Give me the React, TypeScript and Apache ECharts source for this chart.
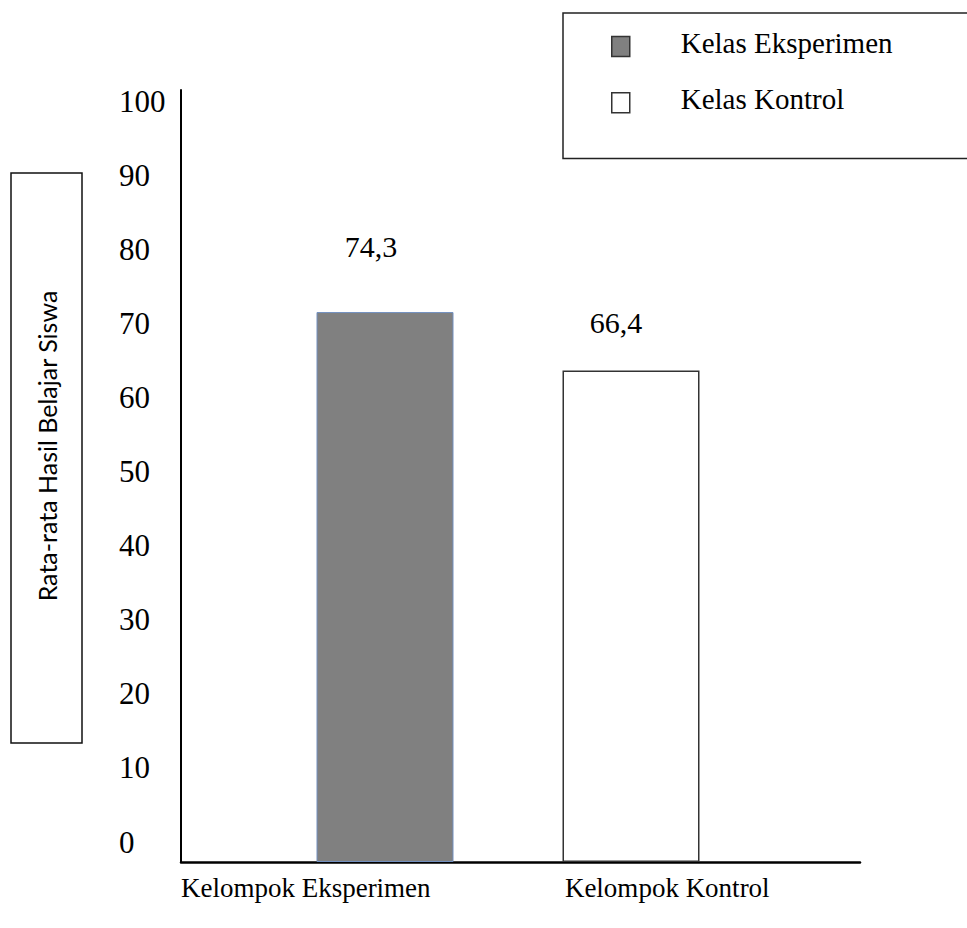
import React, { useEffect, useRef } from "react";
import * as echarts from "echarts";

// Categories on the horizontal axis
const categories = ["Kelompok Eksperimen", "Kelompok Kontrol"];
// Legend / series names
const seriesNames = ["Kelas Eksperimen", "Kelas Kontrol"];
// Mean learning results per group
const eksperimenValues: (number | null)[] = [74.3, null];
const kontrolValues: (number | null)[] = [null, 66.4];
// Value axis range and step
const axisMin = 0;
const axisMax = 104.3;
const axisStep = 10;
const yAxisTitle = "Rata-rata Hasil Belajar Siswa";

const SERIF = "Liberation Serif";
const SANS = "Lato";

const fmtComma = (v: number) => String(v).replace(".", ",");
const toData = (arr: (number | null)[]) => arr.map((v) => (v == null ? "-" : v));

export default function App() {
  const ref = useRef<HTMLDivElement>(null);

  useEffect(() => {
    document.body.style.margin = "0";
    if (!ref.current) return;
    const chart = echarts.init(ref.current, undefined, { renderer: "svg" });

    const valueLabel = {
      show: true,
      position: "top",
      formatter: (p: any) => `{v|${fmtComma(p.value)}}`,
      rich: {
        v: { fontFamily: SERIF, fontSize: 30, color: "#000" },
      },
    };

    const option: any = {
      animation: false,
      backgroundColor: "#ffffff",
      grid: [
        { left: 181, right: 107, top: 90, bottom: 66 },
        { left: 262, right: 213, top: 90, bottom: 66 },
      ],
      legend: {
        orient: "vertical",
        left: 563,
        top: 13,
        padding: [15, 140, 45, 48],
        itemGap: 27,
        itemWidth: 18,
        itemHeight: 20,
        icon: "rect",
        borderColor: "#222",
        borderWidth: 1.5,
        backgroundColor: "#fff",
        data: [
          {
            name: seriesNames[0],
            itemStyle: { color: "#808080", borderColor: "#333", borderWidth: 1.5 },
          },
          {
            name: seriesNames[1],
            itemStyle: { color: "#ffffff", borderColor: "#333", borderWidth: 1.5 },
          },
        ],
        formatter: (name: string) => `{t|${name}}`,
        textStyle: {
          rich: {
            t: {
              fontFamily: SERIF,
              fontSize: 29,
              color: "#000",
              padding: [0, 0, 8, 46],
            },
          },
        },
      },
      xAxis: [
        {
          type: "category",
          gridIndex: 0,
          data: categories,
          axisLine: { lineStyle: { color: "#000", width: 2.5 } },
          axisTick: { show: false },
          axisLabel: {
            interval: 0,
            margin: 12,
            formatter: (v: string, i: number) => (i === 0 ? `{a|${v}}` : `{b|${v}}`),
            rich: {
              a: { fontFamily: SERIF, fontSize: 27, color: "#000", padding: [0, 90, 0, 0] },
              b: { fontFamily: SERIF, fontSize: 27, color: "#000", padding: [0, 46, 0, 0] },
            },
          },
        },
        {
          type: "category",
          gridIndex: 1,
          data: categories,
          show: false,
        },
      ],
      yAxis: [
        {
          type: "value",
          gridIndex: 0,
          min: axisMin,
          max: axisMax,
          interval: axisStep,
          axisLine: { show: true, lineStyle: { color: "#000", width: 2 } },
          axisTick: { show: false },
          splitLine: { show: false },
          axisLabel: {
            align: "left",
            margin: 62,
            formatter: (v: number) => (v % axisStep === 0 ? `{t|${v}}` : ""),
            rich: {
              t: {
                fontFamily: SERIF,
                fontSize: 31,
                color: "#000",
                padding: [0, 0, 40, 0],
              },
            },
          },
        },
        {
          type: "value",
          gridIndex: 1,
          min: axisMin,
          max: axisMax,
          interval: axisStep,
          show: false,
          splitLine: { show: false },
        },
      ],
      series: [
        {
          name: seriesNames[0],
          type: "bar",
          xAxisIndex: 1,
          yAxisIndex: 1,
          data: toData(eksperimenValues),
          barWidth: 137,
          barGap: "-100%",
          itemStyle: { color: "#808080", borderColor: "#7290c0", borderWidth: 1 },
          label: { ...valueLabel, distance: 51, offset: [-14, 0] },
        },
        {
          name: seriesNames[1],
          type: "bar",
          xAxisIndex: 1,
          yAxisIndex: 1,
          data: toData(kontrolValues),
          barWidth: 137,
          barGap: "-100%",
          itemStyle: { color: "#ffffff", borderColor: "#333", borderWidth: 1.5 },
          label: { ...valueLabel, distance: 33, offset: [-15, 0] },
        },
      ],
      graphic: [
        {
          type: "rect",
          shape: { x: 11, y: 173, width: 71, height: 570 },
          style: { fill: "#fff", stroke: "#111", lineWidth: 1.5 },
        },
        {
          type: "text",
          x: 47,
          y: 446,
          rotation: Math.PI / 2,
          style: {
            text: yAxisTitle,
            font: `25px ${SANS}`,
            fill: "#000",
            align: "center",
            verticalAlign: "middle",
          },
        },
      ],
    };

    chart.setOption(option);
    return () => chart.dispose();
  }, []);

  return <div ref={ref} style={{ width: 967, height: 928 }} />;
}
